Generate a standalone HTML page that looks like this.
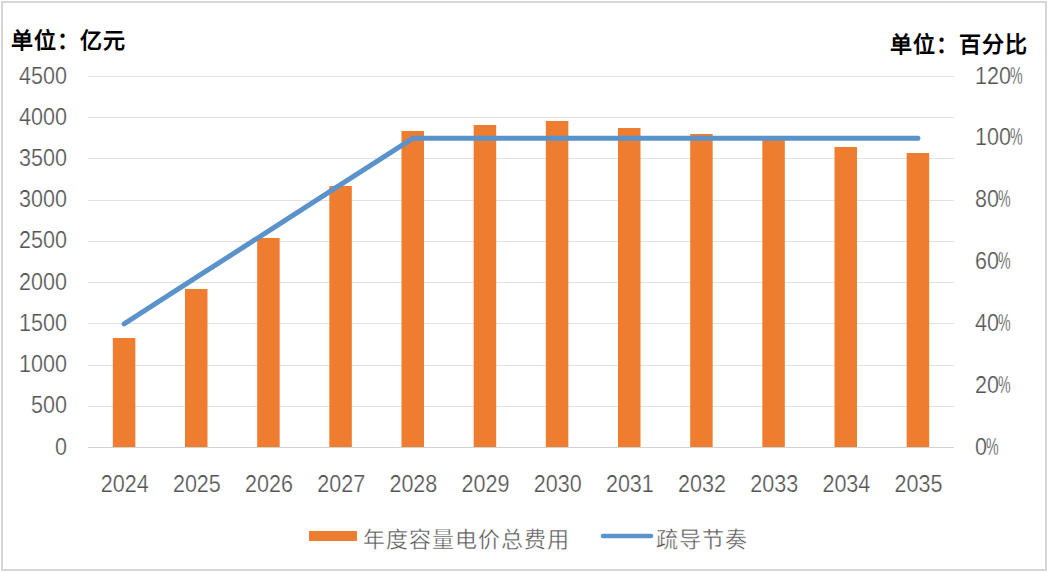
<!DOCTYPE html>
<html lang="zh-CN"><head><meta charset="utf-8"><style>
html,body{margin:0;padding:0;background:#fff;}
body{width:1048px;height:573px;position:relative;overflow:hidden;font-family:"Liberation Sans",sans-serif;}
.frame{position:absolute;left:1px;top:1px;width:1042px;height:566px;border:2px solid #d6d6d6;}
svg{position:absolute;left:0;top:0;}

</style></head><body>
<div class="frame"></div>
<svg width="1048" height="573" viewBox="0 0 1048 573">
<g stroke="#e2e2e2" stroke-width="1"><line x1="88" x2="954" y1="406.50" y2="406.50"/><line x1="88" x2="954" y1="365.50" y2="365.50"/><line x1="88" x2="954" y1="323.50" y2="323.50"/><line x1="88" x2="954" y1="282.50" y2="282.50"/><line x1="88" x2="954" y1="241.50" y2="241.50"/><line x1="88" x2="954" y1="200.50" y2="200.50"/><line x1="88" x2="954" y1="158.50" y2="158.50"/><line x1="88" x2="954" y1="117.50" y2="117.50"/><line x1="88" x2="954" y1="76.50" y2="76.50"/></g><line x1="88" x2="954" y1="447.5" y2="447.5" stroke="#d2d2d2" stroke-width="1"/>
<g fill="#ee7d30"><rect x="112.83" y="338" width="22.5" height="109.00"/><rect x="185.00" y="289" width="22.5" height="158.00"/><rect x="257.17" y="238" width="22.5" height="209.00"/><rect x="329.33" y="186" width="22.5" height="261.00"/><rect x="401.50" y="131" width="22.5" height="316.00"/><rect x="473.67" y="125" width="22.5" height="322.00"/><rect x="545.83" y="121" width="22.5" height="326.00"/><rect x="618.00" y="128" width="22.5" height="319.00"/><rect x="690.17" y="134" width="22.5" height="313.00"/><rect x="762.33" y="140" width="22.5" height="307.00"/><rect x="834.50" y="147" width="22.5" height="300.00"/><rect x="906.67" y="153" width="22.5" height="294.00"/></g>
<polyline points="124.08,323.83 196.25,277.46 268.42,231.08 340.58,184.71 412.75,138.33 484.92,138.33 557.08,138.33 629.25,138.33 701.42,138.33 773.58,138.33 845.75,138.33 917.92,138.33" fill="none" stroke="#5a93cb" stroke-width="5" stroke-linecap="round" stroke-linejoin="round"/>
<g font-family="Liberation Sans, sans-serif" font-size="23.6" fill="#555" stroke="#fff" stroke-width="0.25">
<g text-anchor="end"><text transform="translate(67.00,454.50) scale(0.913,1)">0</text><text transform="translate(67.00,413.28) scale(0.913,1)">500</text><text transform="translate(67.00,372.06) scale(0.913,1)">1000</text><text transform="translate(67.00,330.83) scale(0.913,1)">1500</text><text transform="translate(67.00,289.61) scale(0.913,1)">2000</text><text transform="translate(67.00,248.39) scale(0.913,1)">2500</text><text transform="translate(67.00,207.17) scale(0.913,1)">3000</text><text transform="translate(67.00,165.94) scale(0.913,1)">3500</text><text transform="translate(67.00,124.72) scale(0.913,1)">4000</text><text transform="translate(67.00,83.50) scale(0.913,1)">4500</text></g>
<g text-anchor="start"><text transform="translate(975.00,454.50) scale(0.913,1)">0</text><text transform="translate(985.98,454.50) scale(0.6,1)">%</text><text transform="translate(975.00,392.67) scale(0.913,1)">20</text><text transform="translate(997.96,392.67) scale(0.6,1)">%</text><text transform="translate(975.00,330.83) scale(0.913,1)">40</text><text transform="translate(997.96,330.83) scale(0.6,1)">%</text><text transform="translate(975.00,269.00) scale(0.913,1)">60</text><text transform="translate(997.96,269.00) scale(0.6,1)">%</text><text transform="translate(975.00,207.17) scale(0.913,1)">80</text><text transform="translate(997.96,207.17) scale(0.6,1)">%</text><text transform="translate(975.00,145.33) scale(0.913,1)">100</text><text transform="translate(1009.94,145.33) scale(0.6,1)">%</text><text transform="translate(975.00,83.50) scale(0.913,1)">120</text><text transform="translate(1009.94,83.50) scale(0.6,1)">%</text></g>
<g text-anchor="middle"><text transform="translate(124.68,492.30) scale(0.913,1)">2024</text><text transform="translate(196.85,492.30) scale(0.913,1)">2025</text><text transform="translate(269.02,492.30) scale(0.913,1)">2026</text><text transform="translate(341.18,492.30) scale(0.913,1)">2027</text><text transform="translate(413.35,492.30) scale(0.913,1)">2028</text><text transform="translate(485.52,492.30) scale(0.913,1)">2029</text><text transform="translate(557.68,492.30) scale(0.913,1)">2030</text><text transform="translate(629.85,492.30) scale(0.913,1)">2031</text><text transform="translate(702.02,492.30) scale(0.913,1)">2032</text><text transform="translate(774.18,492.30) scale(0.913,1)">2033</text><text transform="translate(846.35,492.30) scale(0.913,1)">2034</text><text transform="translate(918.52,492.30) scale(0.913,1)">2035</text></g>
</g>
<g font-size="22" letter-spacing="1" font-weight="bold" fill="#000">
<text x="11.3" y="48.4">单位：亿元</text>
<text x="889.6" y="52.2">单位：百分比</text>
</g>
<rect x="309" y="531" width="48" height="10" fill="#ed7d31"/>
<line x1="603" y1="536" x2="651" y2="536" stroke="#5a93cb" stroke-width="4.6" stroke-linecap="round"/>
<g font-size="22" letter-spacing="1" fill="#555" stroke="#fff" stroke-width="0.35">
<text x="363.2" y="546.6">年度容量电价总费用</text>
<text x="656" y="546.6">疏导节奏</text>
</g>
</svg>
</body></html>
